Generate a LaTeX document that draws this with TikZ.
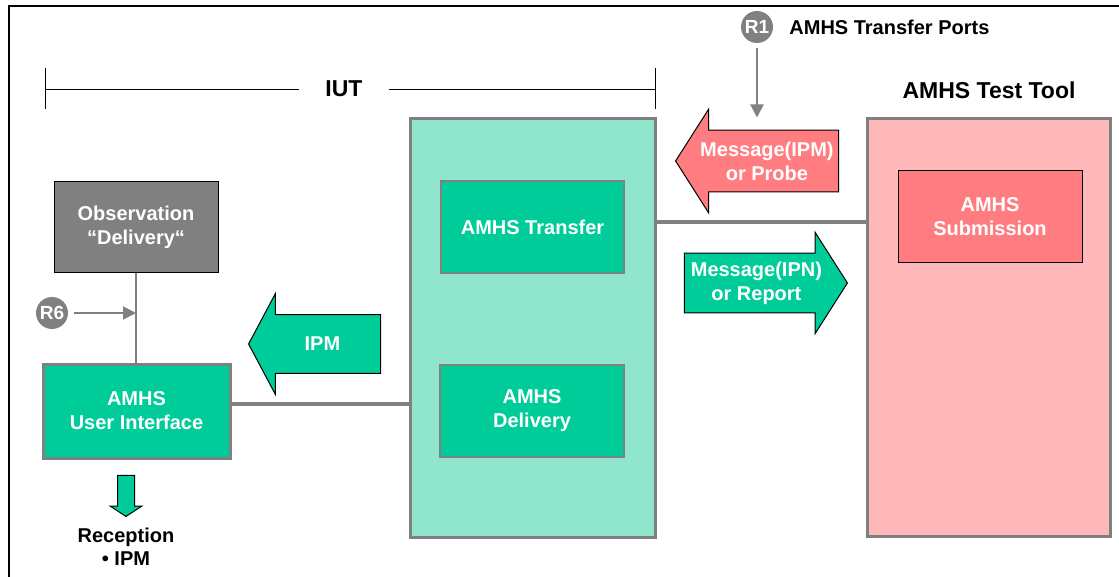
\documentclass[tikz,border=0pt]{standalone}
\usepackage{fontspec}
\setmainfont{Liberation Sans}
\usetikzlibrary{positioning,shapes.arrows,arrows.meta}

\definecolor{amhsgreen}{HTML}{00CC99}
\definecolor{iutfill}{HTML}{8FE6CC}
\definecolor{toolfill}{HTML}{FFB8BA}
\definecolor{subred}{HTML}{FF7C80}
\definecolor{midgrey}{HTML}{808080}

\tikzset{
  outerbox/.style={draw=midgrey,line width=3pt},
  greenbox/.style={draw=midgrey,line width=2pt,fill=amhsgreen,text=white,align=center},
  link/.style={draw=midgrey,line width=4pt},
  refpt/.style={circle,fill=midgrey,text=white,minimum size=32pt,font=\fontsize{19}{20}\selectfont\bfseries},
  refarrow/.style={draw=midgrey,line width=2pt,-{Triangle[length=13pt,width=13pt]}},
  blockarrow/.style={single arrow,draw=black,line width=1pt,text=white,align=center,
    single arrow head extend=21pt,single arrow head indent=0pt,inner xsep=2pt}
}

\begin{document}
\begin{tikzpicture}[x=1pt,y=-1pt,inner sep=0pt,font=\fontsize{20}{24}\selectfont\bfseries]
\clip (0,0) rectangle (1119,577);
\draw[line width=2.5pt] (9,600) |- (1140,6);

% IUT bracket
\node (iutlabel) at (344,89) [inner xsep=26pt,font=\fontsize{23}{28}\selectfont\bfseries] {IUT};
\coordinate (iutleft) at (45,89);
\coordinate (iutright) at (655,89);
\draw[thick] (45,68) -- (45,109);
\draw[thick] (655,68) -- (655,109);
\draw[thick] (iutleft) -- (iutlabel.west);
\draw[thick] (iutlabel.east) -- (iutright);

% IUT and test tool
\node[outerbox,fill=iutfill,minimum width=245pt,minimum height=418pt] (iut) at (532.5,328) {};
\node[outerbox,fill=toolfill,minimum width=243pt,minimum height=417pt] (tool) at (988.5,327.5) {};
\node (tooltitle) at (989,90) [font=\fontsize{23}{28}\selectfont\bfseries] {AMHS Test Tool};

\node[greenbox,minimum width=183pt,minimum height=92pt] (transfer) at (532.5,227) {AMHS Transfer};
\node[greenbox,minimum width=184pt,minimum height=92pt] (delivery) at (532,410.5) {AMHS\\Delivery};
\node[draw=black,line width=1pt,fill=subred,text=white,align=center,
      minimum width=184pt,minimum height=92pt] (submission) at (990,217) {AMHS\\Submission};

\node[draw=black,line width=1pt,fill=midgrey,text=white,align=center,
      minimum width=164pt,minimum height=91pt] (obs) at (136,227.5) {Observation\\“Delivery“};
\node[greenbox,line width=3pt,minimum width=187pt,minimum height=94pt] (ui) at (136.5,411) {AMHS\\User Interface};

% links
\coordinate (trlink) at ([yshift=5pt]transfer.east);
\draw[link] (trlink -| iut.east) -- (trlink -| tool.west);
\coordinate (uilink) at ([yshift=7pt]ui.east);
\draw[link] (uilink) -- (uilink -| iut.west);
\draw[draw=midgrey,line width=2pt] (obs.south) -- (obs.south |- ui.north);

% reference points
\node[refpt] (r1) at (757,27) {R1};
\node[right=16pt of r1] (ports) {AMHS Transfer Ports};
\draw[refarrow,shorten <=5pt] (r1) -- (r1 |- tool.north);
\node[refpt] (r6) at (52,313) {R6};
\draw[refarrow,shorten <=6pt] (r6) -- (r6 -| obs.south);

% block arrows
\node[blockarrow,fill=subred,shape border rotate=180,single arrow tip angle=115,
      inner ysep=11pt,minimum height=163pt,anchor=tip] (probe) at (675,161) {Message(IPM)\\or Probe};
\node[blockarrow,fill=amhsgreen,single arrow tip angle=115,
      inner ysep=8pt,minimum height=163pt,anchor=tip] (report) at (848,283) {Message(IPN)\\or Report};
\node[blockarrow,fill=amhsgreen,shape border rotate=180,single arrow tip angle=124,
      inner ysep=22pt,minimum height=132pt,anchor=tip] (ipm) at (248,344) {IPM};
\node[blockarrow,fill=amhsgreen,shape border rotate=270,single arrow tip angle=114,
      single arrow head extend=7.5pt,inner sep=8pt,minimum height=41pt,anchor=tip] (down) at (126,517) {};

\node[below=11pt of down.tip,align=center,font=\fontsize{20}{23}\selectfont\bfseries] (reception) {Reception\\• IPM};
\end{tikzpicture}
\end{document}
